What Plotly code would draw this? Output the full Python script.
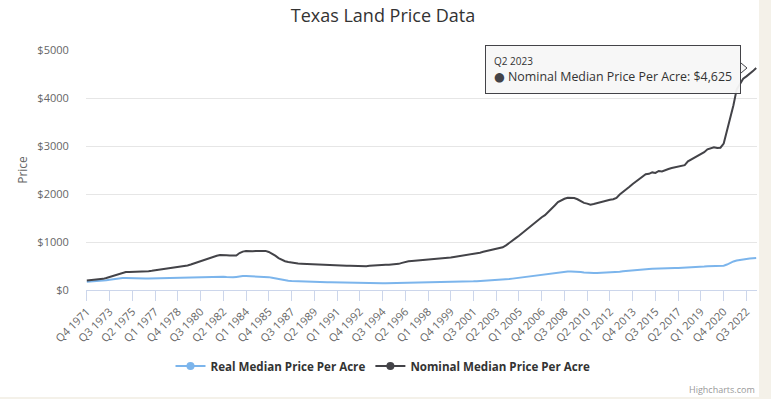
import plotly.graph_objects as go

# Quarterly data, Q4 1971 .. Q2 2023
start_year = 1971
start_q = 4
n_points = 207

nominal = [
    200,
    205, 210, 215, 222,
    232, 250, 270, 295,
    320, 345, 365, 375,
    375, 376, 377, 378,
    380, 385, 392, 400,
    410, 420, 430, 440,
    445, 452, 460, 468,
    478, 492, 510, 530,
    555, 580, 605, 625,
    650, 675, 695, 715,
    728, 730, 725, 718,
    716, 720, 770, 800,
    810, 805, 808, 812,
    815, 818, 815, 792,
    760, 715, 665, 625,
    600, 585, 570, 560,
    552, 548, 544, 541,
    538, 535, 532, 530,
    528, 525, 522, 518,
    515, 512, 510, 507,
    505, 502, 500, 497,
    494, 497, 505, 512,
    518, 520, 522, 525,
    528, 531, 535, 545,
    565, 585, 598, 605,
    610, 615, 620, 626,
    632, 638, 642, 648,
    655, 662, 670, 678,
    688, 698, 708, 718,
    728, 740, 752, 764,
    778, 795, 812, 830,
    845, 860, 875, 890,
    930, 975, 1025, 1080,
    1130, 1185, 1240, 1300,
    1360, 1420, 1475, 1515,
    1560, 1620, 1690, 1760,
    1830, 1870, 1900, 1920,
    1925, 1915, 1890, 1850,
    1815, 1800, 1775, 1790,
    1810, 1820, 1840, 1860,
    1880, 1890, 1920, 1990,
    2040, 2090, 2150, 2210,
    2260, 2300, 2360, 2410,
    2420, 2450, 2440, 2480,
    2470, 2500, 2520, 2540,
    2555, 2565, 2580, 2600,
    2680, 2720, 2760, 2800,
    2830, 2870, 2930, 2960,
    2975, 2960, 2965, 3050,
    3300, 3550, 3850, 4180,
    4300, 4400, 4450, 4500,
    4560, 4625,
]

real = [
    172,
    175, 178, 182, 188,
    195, 205, 215, 228,
    240, 248, 252, 250,
    246, 242, 238, 236,
    236, 237, 238, 240,
    241, 242, 243, 244,
    245, 246, 248, 250,
    252, 254, 256, 258,
    260, 262, 264, 266,
    268, 272, 276, 279,
    280, 278, 272, 266,
    264, 272, 284, 290,
    290, 288, 287, 286,
    285, 283, 278, 268,
    256, 242, 225, 210,
    200, 195, 190, 186,
    184, 182, 180, 178,
    176, 173, 170, 167,
    164, 162, 160, 158,
    157, 156, 155, 154,
    150, 148, 146, 144,
    142, 141, 140, 140,
    140, 141, 141, 142,
    143, 144, 145, 147,
    150, 153, 155, 156,
    157, 158, 158, 159,
    160, 160, 161, 162,
    163, 164, 165, 166,
    168, 170, 172, 174,
    176, 178, 180, 183,
    186, 190, 194, 198,
    202, 206, 210, 214,
    220, 228, 237, 246,
    256, 266, 276, 288,
    298, 308, 316, 322,
    330, 340, 350, 358,
    366, 374, 380, 384,
    386, 386, 382, 374,
    366, 358, 352, 352,
    354, 356, 358, 360,
    362, 366, 372, 380,
    390, 398, 406, 414,
    420, 426, 432, 436,
    438, 442, 442, 446,
    446, 450, 452, 454,
    456, 458, 460, 462,
    468, 472, 476, 480,
    484, 490, 496, 500,
    500, 498, 498, 506,
    530, 565, 595, 615,
    630, 640, 648, 655,
    660, 665,
]

# category labels
quarters = []
y, q = start_year, start_q
for _ in range(n_points):
    quarters.append(f"Q{q} {y}")
    q += 1
    if q > 4:
        q = 1
        y += 1

tick_step = 7
y_ticks = [0, 1000, 2000, 3000, 4000, 5000]

series_names = ["Real Median Price Per Acre", "Nominal Median Price Per Acre"]
series_colors = ["#7cb5ec", "#434348"]

FONT = "Open Sans, DejaVu Sans, sans-serif"
W, H = 759, 397
L, R, T, B = 86, 2, 50, 107
PAGE_BG = "#f4f1e9"

idx = list(range(n_points))
fig = go.Figure()
for name, vals, col in zip(series_names, [real, nominal], series_colors):
    fig.add_trace(go.Scatter(x=idx, y=vals, mode="lines", name=name,
                             line=dict(color=col, width=2), showlegend=False,
                             hoverinfo="skip"))
    fig.add_trace(go.Scatter(x=[None], y=[None], mode="lines+markers", name=name,
                             line=dict(color=col, width=2),
                             marker=dict(color=col, size=8, symbol="circle")))

tickvals = idx[::tick_step]
ticktext = quarters[::tick_step]

pw = W - L - R
ph = H - T - B


def px_x(p):
    return (p - L) / pw


def px_y(p):
    return (H - B - p) / ph


fig.update_layout(
    width=W, height=H,
    margin=dict(l=L, r=R, t=T, b=B),
    paper_bgcolor="white", plot_bgcolor="white",
    font=dict(family=FONT, color="#666666", size=11),
    title=dict(text="Texas Land Price Data", x=383 / W, xref="container", xanchor="center",
               y=1 - 16 / H, yref="container", yanchor="middle",
               font=dict(size=18, color="#333333", family=FONT)),
    showlegend=True,
    legend=dict(orientation="h", x=px_x(383), xanchor="center", y=px_y(366), yanchor="middle",
                font=dict(size=11.6, color="#333333", family=FONT, weight="bold"),
                itemwidth=30, bgcolor="rgba(0,0,0,0)", traceorder="normal"),
    xaxis=dict(range=[-0.25, 206.25], tickmode="array", tickvals=tickvals, ticktext=ticktext,
               tickangle=-45, ticks="outside", ticklen=10, tickcolor="#ccd6eb",
               showline=True, linecolor="#ccd6eb", linewidth=1,
               showgrid=False, zeroline=False, tickfont=dict(size=11, color="#666666")),
    yaxis=dict(range=[0, 5000], tickmode="array", tickvals=y_ticks,
               ticktext=[f"${v}" for v in y_ticks],
               showgrid=True, gridcolor="#e6e6e6", gridwidth=1, zeroline=False,
               showline=False, ticks="outside", ticklen=14, tickcolor="rgba(0,0,0,0)",
               tickfont=dict(size=11, color="#666666"),
               title=dict(text="Price", font=dict(size=12, color="#666666"), standoff=7)),
    hovermode=False,
)

# tooltip
last_label = quarters[-1]
last_val = nominal[-1]
tip_right, tip_top = 741, 45
fig.add_annotation(
    xref="paper", yref="paper", x=px_x(tip_right), y=px_y(tip_top),
    xanchor="right", yanchor="top", showarrow=False, align="left",
    text=(f"<span style='font-size:10px'>{last_label}</span><br>"
          f"<span style='color:{series_colors[1]}'>●</span> "
          f"{series_names[1]}: ${last_val:,}"),
    font=dict(size=12.4, color="#333333", family=FONT),
    bgcolor="rgba(247,247,247,0.95)", bordercolor=series_colors[1], borderwidth=1,
    borderpad=8,
)
# tooltip pointer
tx0, tx1 = px_x(tip_right), px_x(tip_right + 6)
ty_top, ty_mid, ty_bot = px_y(63), px_y(68), px_y(73)
fig.add_shape(type="path", xref="paper", yref="paper",
              path=f"M {tx0} {ty_top} L {tx1} {ty_mid} L {tx0} {ty_bot}",
              fillcolor="rgba(247,247,247,1)", line=dict(color=series_colors[1], width=1))

# credits
fig.add_annotation(xref="paper", yref="paper", x=px_x(757), y=px_y(389),
                   xanchor="right", yanchor="middle", showarrow=False,
                   text="Highcharts.com", font=dict(size=9, color="#999999", family=FONT))

fig.write_html(
    "out.html",
    config={"displayModeBar": False},
    post_script=(f"document.body.style.margin='0px';"
                 f"document.body.style.background='{PAGE_BG}';"),
)
